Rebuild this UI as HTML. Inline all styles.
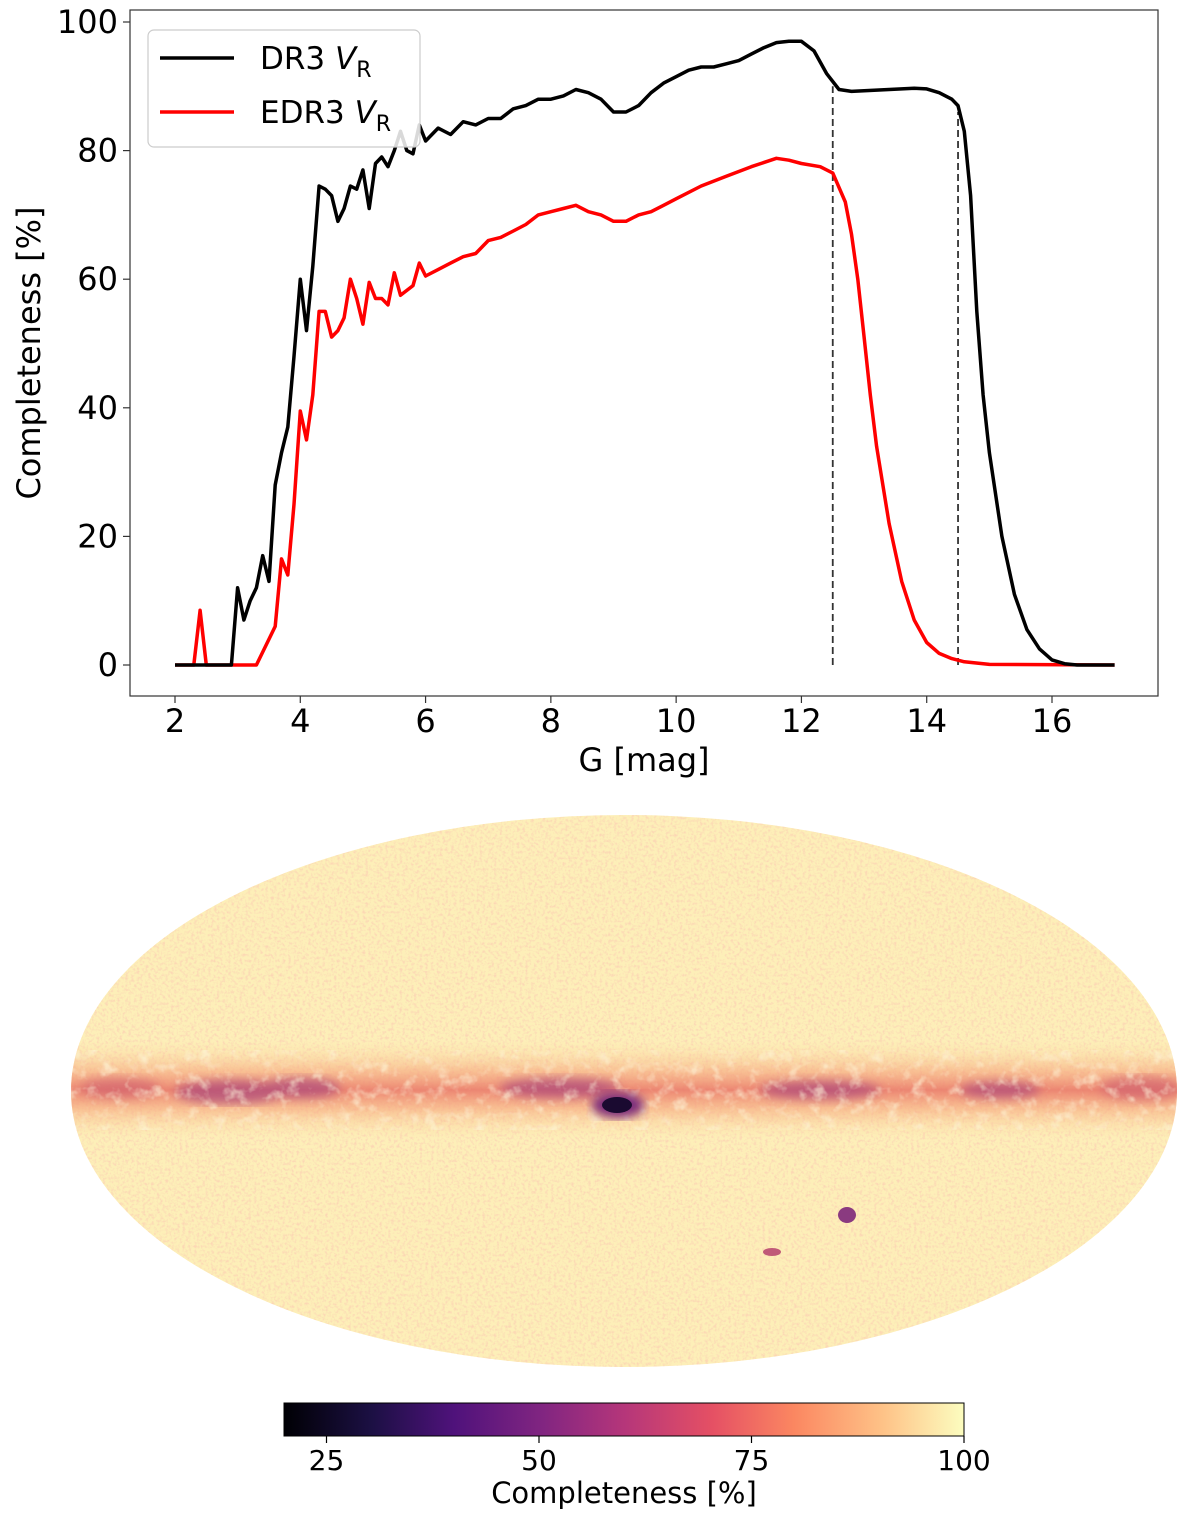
<!DOCTYPE html>
<html><head><meta charset="utf-8"><style>
html,body{margin:0;padding:0;background:#fff;}
svg{display:block;font-family:"DejaVu Sans","Liberation Sans",sans-serif;}
</style></head><body>
<svg id="fig" width="1200" height="1520" viewBox="0 0 1200 1520">
<defs>
<clipPath id="ellClip"><ellipse cx="624" cy="1091" rx="553" ry="276"/></clipPath>
<linearGradient id="magma" x1="0" x2="1" y1="0" y2="0">
<stop offset="0" stop-color="#000004"/><stop offset="0.13" stop-color="#1c1044"/>
<stop offset="0.25" stop-color="#4f127b"/><stop offset="0.38" stop-color="#812581"/>
<stop offset="0.5" stop-color="#b5367a"/><stop offset="0.63" stop-color="#e55064"/>
<stop offset="0.75" stop-color="#fb8761"/><stop offset="0.88" stop-color="#fec287"/>
<stop offset="1" stop-color="#fcfdbf"/></linearGradient>
<linearGradient id="band" x1="0" x2="0" y1="0" y2="1">
<stop offset="0" stop-color="#fbe3a8" stop-opacity="0"/>
<stop offset="0.3" stop-color="#f6a67d" stop-opacity="0.6"/>
<stop offset="0.5" stop-color="#ea7a6a" stop-opacity="0.9"/>
<stop offset="0.7" stop-color="#f6a67d" stop-opacity="0.6"/>
<stop offset="1" stop-color="#fbe3a8" stop-opacity="0"/></linearGradient>
<filter id="noise" x="0" y="0" width="100%" height="100%">
<feTurbulence type="fractalNoise" baseFrequency="0.35" numOctaves="2" seed="3"/>
<feColorMatrix values="0 0 0 0 0.97  0 0 0 0 0.62  0 0 0 0 0.45  3 0 0 0 -1.35"/>
</filter>
<filter id="noise2" x="0" y="0" width="100%" height="100%">
<feTurbulence type="fractalNoise" baseFrequency="0.08" numOctaves="3" seed="7"/>
<feColorMatrix values="0 0 0 0 0.99  0 0 0 0 0.92  0 0 0 0 0.70  3 0 0 0 -1.5"/>
</filter>
<filter id="blur"><feGaussianBlur stdDeviation="5"/></filter>
</defs>

<g id="top-chart">
<rect x="130" y="10" width="1028" height="686" fill="#fff" stroke="#333" stroke-width="1.2"/>
<g id="lines"></g>
<g id="xticks"></g><g id="yticks"></g>
<text x="644" y="771" font-size="32" text-anchor="middle" fill="#000">G [mag]</text>
<text transform="translate(40,353) rotate(-90)" font-size="32" text-anchor="middle" fill="#000">Completeness [%]</text>
<g>
<rect x="148" y="30" width="272" height="117" rx="6" fill="#fff" fill-opacity="0.85" stroke="#ccc" stroke-width="1.2"/>
<g>
<line x1="160" y1="58" x2="234" y2="58" stroke="#000" stroke-width="3.5"/>
<text x="260" y="69" font-size="31">DR3 <tspan font-style="italic">V</tspan><tspan font-size="22" dy="8">R</tspan></text></g>
<g>
<line x1="160" y1="112" x2="234" y2="112" stroke="#f00" stroke-width="3.5"/>
<text x="260" y="123" font-size="31">EDR3 <tspan font-style="italic">V</tspan><tspan font-size="22" dy="8">R</tspan></text></g>
</g>
</g>

<g id="map">
<g clip-path="url(#ellClip)">
<rect x="60" y="810" width="1130" height="565" fill="#fdefb8"/>
<rect x="60" y="810" width="1130" height="565" filter="url(#noise)" opacity="0.7"/>
<rect x="60" y="1040" width="1130" height="100" fill="url(#band)"/>
<g filter="url(#blur)" fill="#a5407a" opacity="0.65">
<ellipse cx="230" cy="1092" rx="55" ry="12"/>
<ellipse cx="300" cy="1088" rx="40" ry="10"/>
<ellipse cx="560" cy="1088" rx="60" ry="10"/>
<ellipse cx="820" cy="1090" rx="60" ry="9"/>
<ellipse cx="1000" cy="1090" rx="40" ry="8"/>
<ellipse cx="120" cy="1088" rx="40" ry="10" fill="#d0606e"/>
<ellipse cx="1140" cy="1088" rx="40" ry="12" fill="#d0606e"/>
</g>
<rect x="60" y="1050" width="1130" height="80" filter="url(#noise2)" opacity="0.6"/>
<g filter="url(#blur)">
<ellipse cx="618" cy="1105" rx="26" ry="13" fill="#7a2a7a"/>
</g>
<ellipse cx="617" cy="1105" rx="15" ry="8" fill="#1a0a30"/>
<ellipse cx="847" cy="1215" rx="9" ry="8" fill="#8a3a80"/>
<ellipse cx="772" cy="1252" rx="9" ry="4" fill="#c05a78"/>
</g>
</g>

<g>
<rect x="284" y="1403" width="680" height="33" fill="url(#magma)" stroke="#000" stroke-width="1"/>
<g id="cbticks"></g>
<text x="624" y="1503" font-size="29" text-anchor="middle">Completeness [%]</text>
</g>
</svg>
<script>
const gDR3 = [2.0,2.4,2.9,3.0,3.1,3.2,3.3,3.4,3.5,3.6,3.7,3.8,3.9,4.0,4.1,4.2,4.3,4.4,4.5,4.6,4.7,4.8,4.9,5.0,5.1,5.2,5.3,5.4,5.5,5.6,5.7,5.8,5.9,6.0,6.2,6.4,6.6,6.8,7.0,7.2,7.4,7.6,7.8,8.0,8.2,8.4,8.6,8.8,9.0,9.2,9.4,9.6,9.8,10.0,10.2,10.4,10.6,10.8,11.0,11.2,11.4,11.6,11.8,12.0,12.2,12.4,12.6,12.8,13.0,13.4,13.8,14.0,14.2,14.4,14.5,14.6,14.7,14.8,14.9,15.0,15.2,15.4,15.6,15.8,16.0,16.2,16.4,17.0];
const vDR3 = [0,0,0,12,7,10,12,17,13,28,33,37,48,60,52,62,74.5,74,73,69,71,74.5,74,77,71,78,79,77.5,80,83,80,79.5,84,81.5,83.5,82.5,84.5,84,85,85,86.5,87,88,88,88.5,89.5,89,88,86,86,87,89,90.5,91.5,92.5,93,93,93.5,94,95,96,96.8,97,97,95.5,92,89.5,89.2,89.3,89.5,89.7,89.6,89,88,87,83,73,55,42,33,20,11,5.5,2.5,0.8,0.2,0,0];
const gEDR3 = [2.0,2.3,2.4,2.5,3.3,3.6,3.7,3.8,3.9,4.0,4.1,4.2,4.3,4.4,4.5,4.6,4.7,4.8,4.9,5.0,5.1,5.2,5.3,5.4,5.5,5.6,5.8,5.9,6.0,6.2,6.4,6.6,6.8,7.0,7.2,7.4,7.6,7.8,8.0,8.2,8.4,8.6,8.8,9.0,9.2,9.4,9.6,9.8,10.0,10.4,10.8,11.2,11.6,11.8,12.0,12.3,12.5,12.7,12.8,12.9,13.0,13.1,13.2,13.4,13.6,13.8,14.0,14.2,14.4,14.6,15.0,17.0];
const vEDR3 = [0,0,8.5,0,0,6,16.5,14,25,39.5,35,42,55,55,51,52,54,60,57,53,59.5,57,57,56,61,57.5,59,62.5,60.5,61.5,62.5,63.5,64,66,66.5,67.5,68.5,70,70.5,71,71.5,70.5,70,69,69,70,70.5,71.5,72.5,74.5,76,77.5,78.8,78.5,78,77.5,76.5,72,67,60,51,42,34,22,13,7,3.5,1.8,1,0.5,0.1,0];
const cutG = [12.5,14.5];
const cutTop = [90,86];
const xTicks = [2,4,6,8,10,12,14,16];
const yTicks = [0,20,40,60,80,100];
const cbTicks = [25,50,75,100];

const NS='http://www.w3.org/2000/svg';
const X = g => 175 + (g-2)*(1052-175)/14;
const Y = v => 665 - v*(665-22)/100;
const CB = v => 284 + (v-20)*(964-284)/80;
function mk(tag, attrs, parent){const e=document.createElementNS(NS,tag);for(const k in attrs)e.setAttribute(k,attrs[k]);parent.appendChild(e);return e;}
const lines=document.getElementById('lines');
cutG.forEach((g,i)=>{
  const l=mk('line',{x1:X(g),x2:X(g),y1:Y(0),y2:Y(cutTop[i]),stroke:'#333','stroke-width':1.8,'stroke-dasharray':'7,4'},lines);
  
  
});
function series(gs,vs,color,name){
  const p=mk('polyline',{points:gs.map((g,i)=>X(g).toFixed(1)+','+Y(vs[i]).toFixed(1)).join(' '),fill:'none',stroke:color,'stroke-width':3.5,'stroke-linejoin':'round'},lines);
  
  
}
series(gEDR3,vEDR3,'#f00','edr3-line');
series(gDR3,vDR3,'#000','dr3-line');
const xt=document.getElementById('xticks');
xTicks.forEach(t=>{
  mk('line',{x1:X(t),x2:X(t),y1:696,y2:703,stroke:'#333','stroke-width':1.2},xt);
  const tx=mk('text',{x:X(t),y:732,'font-size':32,'text-anchor':'middle'},xt);tx.textContent=t;
  
  
});
const yt=document.getElementById('yticks');
yTicks.forEach(t=>{
  mk('line',{x1:123,x2:130,y1:Y(t),y2:Y(t),stroke:'#333','stroke-width':1.2},yt);
  const tx=mk('text',{x:118,y:Y(t)+11,'font-size':32,'text-anchor':'end'},yt);tx.textContent=t;
  
  
});
const cb=document.getElementById('cbticks');
cbTicks.forEach(t=>{
  mk('line',{x1:CB(t),x2:CB(t),y1:1436,y2:1443,stroke:'#000','stroke-width':1.2},cb);
  const tx=mk('text',{x:CB(t),y:1470,'font-size':28,'text-anchor':'middle'},cb);tx.textContent=t;
  
  
});
</script>
</body></html>
